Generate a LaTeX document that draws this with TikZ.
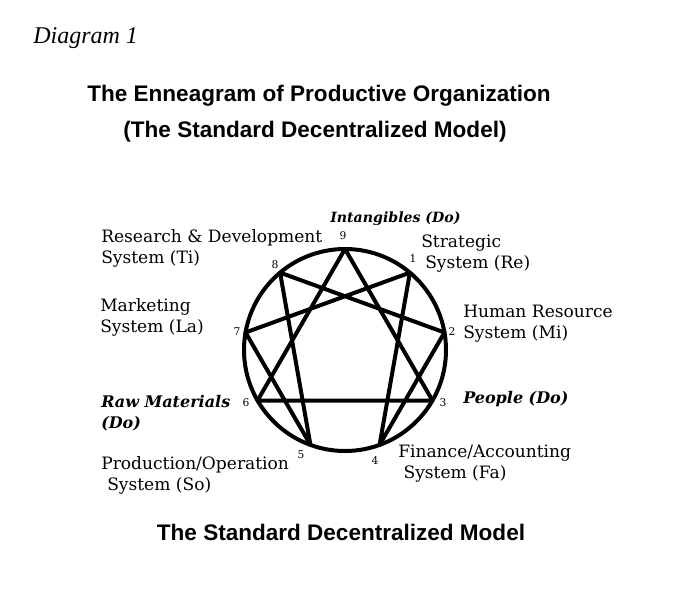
\documentclass[tikz,border=0pt]{standalone}
\usepackage{fontspec}
\setmainfont{DejaVu Serif}
\newfontfamily\headfont{Liberation Sans}
\newfontfamily\capfont{Liberation Serif}
\usetikzlibrary{positioning}

\begin{document}
\begin{tikzpicture}[x=0.75pt,y=-0.75pt,
    every node/.style={inner sep=0pt},
    heading/.style={anchor=base, font=\headfont\bfseries\fontsize{16.9}{20}\selectfont},
    system/.style={align=left, anchor=base west, font=\fontsize{12.8}{15.75}\selectfont},
    main/.style={align=left, anchor=base west, font=\bfseries\itshape\fontsize{12}{15.75}\selectfont},
    num/.style={font=\fontsize{8}{9}\selectfont},
    chord/.style={line width=3pt, line join=round, line cap=round}]

    \useasboundingbox (0,0) rectangle (688,596);

    \node[anchor=base west, font=\capfont\itshape\fontsize{18}{22}\selectfont] (diag) at (33,43) {Diagram 1};
    \node[heading] (title) at (319,101) {The Enneagram of Productive Organization};
    \node[heading] (subtitle) at (315,137) {(The Standard Decentralized Model)};

    % circle with the nine points
    \coordinate (c) at (345,350);
    \draw[line width=3pt] (c) circle[radius=75.75pt];
    \foreach \k in {1,...,9}
        \path (c) ++(-90+40*\k:101) coordinate (p\k);

    \draw[chord] (p9) -- (p3) -- (p6) -- cycle;
    \draw[chord] (p1) -- (p4) -- (p2) -- (p8) -- (p5) -- (p7) -- cycle;

    % point numbers
    \node[num] (n9) at (343,236) {9};
    \node[num] (n1) at (413,259) {1};
    \node[num] (n2) at (452,332) {2};
    \node[num] (n3) at (443,403) {3};
    \node[num] (n4) at (375,461) {4};
    \node[num] (n5) at (301,455) {5};
    \node[num] (n6) at (246,403) {6};
    \node[num] (n7) at (237,332) {7};
    \node[num] (n8) at (275,265) {8};

    % systems (base = last line)
    \node[main, font=\bfseries\itshape\fontsize{10.6}{15.75}\selectfont] (intang) at (330,222) {Intangibles (Do)};
    \node[system] (rnd) at (101,263) {Research \& Development\\System (Ti)};
    \node[system] (strat) at (421,268) {Strategic\\\hspace*{3pt}System (Re)};
    \node[system] (mkt) at (100,332) {Marketing\\System (La)};
    \node[system] (hr) at (463,338) {Human Resource\\System (Mi)};
    \node[main] (raw) at (101,428) {Raw Materials\\(Do)};
    \node[main] (people) at (463,403) {People (Do)};
    \node[system] (prod) at (101,490) {Production/Operation\\\hspace*{4.5pt}System (So)};
    \node[system] (fin) at (398,478) {Finance/Accounting\\\hspace*{4pt}System (Fa)};

    \node[heading] (bottom) at (341,540) {The Standard Decentralized Model};
\end{tikzpicture}
\end{document}
